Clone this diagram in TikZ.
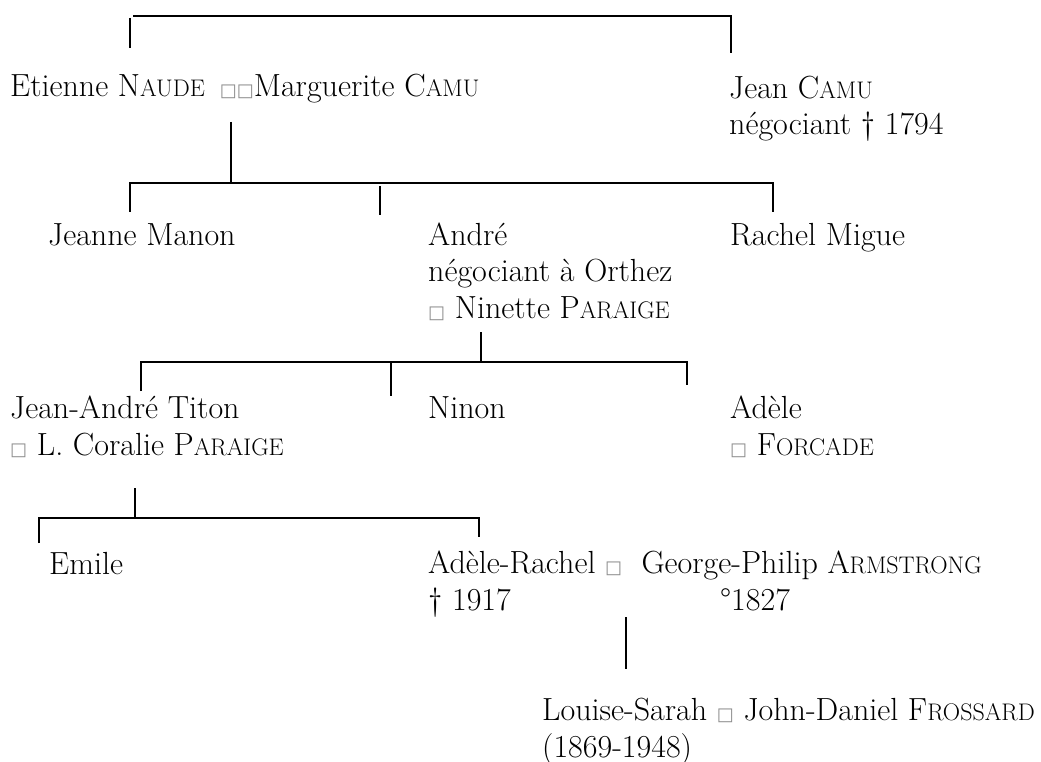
\documentclass[tikz,border=0pt]{standalone}
\usepackage{fontspec}
\newfontfamily\symfont{DejaVu Sans}
\newcommand\mar{{\symfont\fontsize{18}{36.5}\selectfont\textcolor{black!45}{□}}}
\newcommand\smc[2]{#1{\fontsize{24}{36.5}\selectfont #2}}
\tikzset{
  person/.style={anchor=base west, inner sep=0pt, align=left, font=\fontsize{32}{36.5}\selectfont},
  link/.style={line width=2.1pt, line cap=butt, line join=miter},
}
\begin{document}
\begin{tikzpicture}[x=1pt,y=-1pt]
\useasboundingbox (0,0) rectangle (1041,762);
% people (anchor = baseline of the last line)
\node[person] (etienne) at (10,97) {Etienne \smc{N}{AUDE} \,\mar\mar Marguerite \smc{C}{AMU}};
\node[person] (jean) at (729,135) {Jean \smc{C}{AMU}\\négociant † 1794};
\node[person] (jeanne) at (48,245) {Jeanne Manon};
\node[person] (andre) at (428,318) {André\\négociant à Orthez\\\mar{} Ninette \smc{P}{ARAIGE}};
\node[person] (rachel) at (730,245) {Rachel Migue};
\node[person] (titon) at (10,455) {Jean-André Titon\\\mar{} L. Coralie \smc{P}{ARAIGE}};
\node[person] (ninon) at (428,418) {Ninon};
\node[person] (adele) at (730,455) {Adèle\\\mar{} \smc{F}{ORCADE}};
\node[person] (emile) at (49,574) {Emile};
\node[person] (adeler) at (428,610) {Adèle-Rachel \mar{}\ \ George-Philip \smc{A}{RMSTRONG}\\\makebox[292pt][l]{† 1917}°1827};
\node[person] (louise) at (542,757) {Louise-Sarah \mar{} John-Daniel \smc{F}{ROSSARD}\\(1869-1948)};
% connector points
\coordinate (t0a) at (130,18);  \coordinate (t0b) at (130,48);
\coordinate (t1) at (133,16);   \coordinate (t2) at (731,16);  \coordinate (t3) at (731,53);
\coordinate (a1) at (231,122);  \coordinate (a2) at (231,183);
\coordinate (b0) at (130,212);  \coordinate (b1) at (130,183); \coordinate (b2) at (773,183); \coordinate (b3) at (773,212);
\coordinate (bm1) at (380,186); \coordinate (bm2) at (380,215);
\coordinate (c1) at (481,332);  \coordinate (c2) at (481,362);
\coordinate (d0) at (141,391);  \coordinate (d1) at (141,362); \coordinate (d2) at (687,362); \coordinate (d3) at (687,385);
\coordinate (dm1) at (391,362); \coordinate (dm2) at (391,396);
\coordinate (e1) at (135,488);  \coordinate (e2) at (135,518);
\coordinate (f0) at (39,543);   \coordinate (f1) at (39,518);  \coordinate (f2) at (479,518); \coordinate (f3) at (479,537);
\coordinate (g1) at (626,617);  \coordinate (g2) at (626,669);
% connectors
\draw[link] (t0a) -- (t0b);
\draw[link] (t1) -- (t2) -- (t3);
\draw[link] (a1) -- (a2);
\draw[link] (b0) -- (b1) -- (b2) -- (b3);
\draw[link] (bm1) -- (bm2);
\draw[link] (c1) -- (c2);
\draw[link] (d0) -- (d1) -- (d2) -- (d3);
\draw[link] (dm1) -- (dm2);
\draw[link] (e1) -- (e2);
\draw[link] (f0) -- (f1) -- (f2) -- (f3);
\draw[link] (g1) -- (g2);
\end{tikzpicture}
\end{document}
